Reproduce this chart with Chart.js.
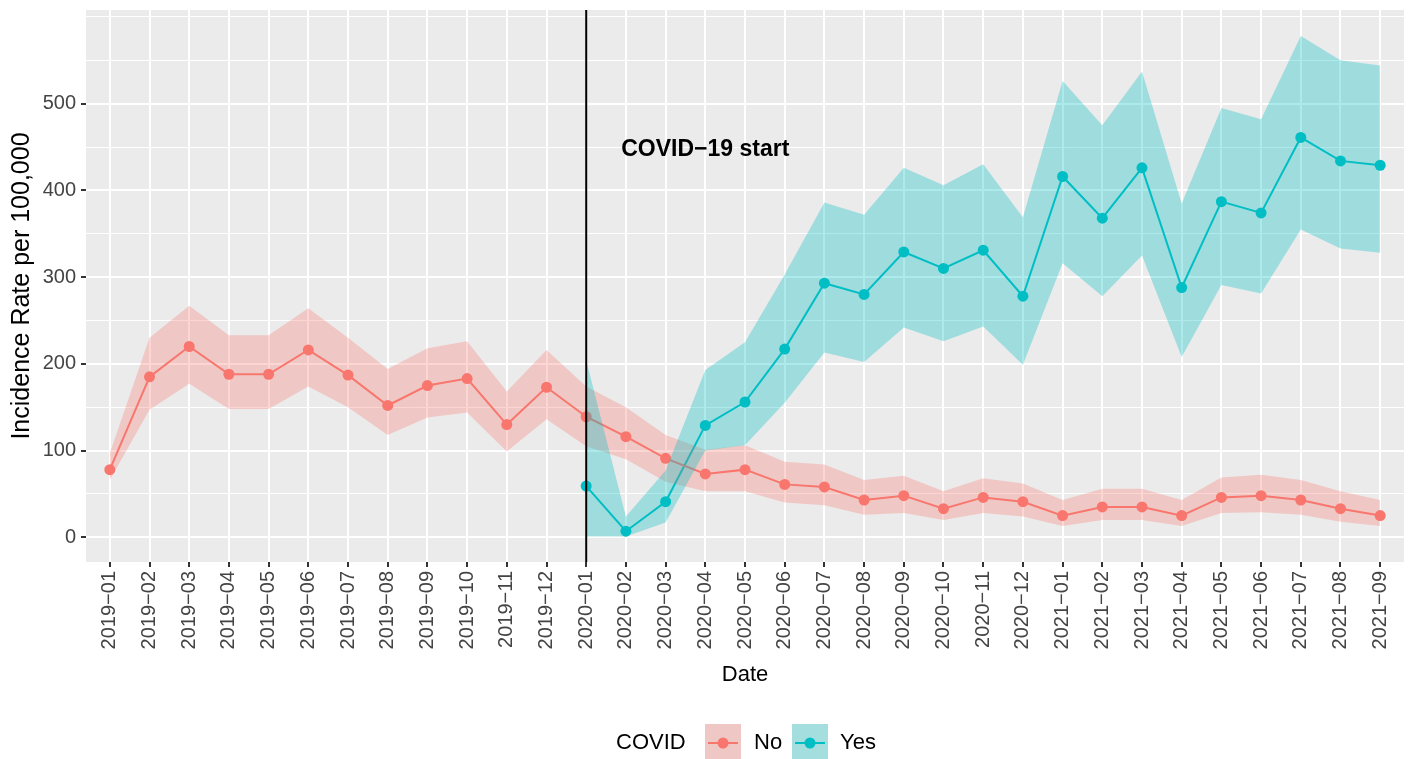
<!DOCTYPE html>
<html>
<head>
<meta charset="utf-8">
<script src="https://cdn.jsdelivr.net/npm/chart.js@4.4.1/dist/chart.umd.min.js"></script>
<style>
  html, body { margin: 0; padding: 0; background: #fff; }
  #wrap { width: 1411px; height: 759px; }
</style>
</head>
<body>
<div id="wrap"><canvas id="chart"></canvas></div>
<script>
const months = [
    '2019-01', '2019-02', '2019-03', '2019-04', '2019-05', '2019-06', '2019-07', '2019-08', '2019-09', '2019-10', '2019-11', '2019-12',
    '2020-01', '2020-02', '2020-03', '2020-04', '2020-05', '2020-06', '2020-07', '2020-08', '2020-09', '2020-10', '2020-11', '2020-12',
    '2021-01', '2021-02', '2021-03', '2021-04', '2021-05', '2021-06', '2021-07', '2021-08', '2021-09'
];

// COVID = No (all months)
const noRate  = [78, 185, 220, 188, 188, 216, 187, 152, 175, 183, 130, 173, 139, 116, 91, 73, 78, 61, 58, 43, 48, 33, 46, 41, 25, 35, 35, 25, 46, 48, 43, 33, 25];
const noLower = [66, 147, 177, 148, 148, 174, 150, 118, 138, 144, 99, 136, 105, 90, 64, 53, 53, 40, 37, 26, 28, 20, 28, 24, 13, 20, 20, 13, 28, 29, 26, 18, 13];
const noUpper = [97, 230, 267, 233, 233, 264, 230, 194, 218, 226, 168, 216, 174, 150, 118, 101, 106, 87, 84, 66, 71, 53, 68, 62, 43, 56, 56, 43, 69, 72, 66, 53, 43];

// COVID = Yes (from 2020-01)
const yesStart = 12;
const yesRate  = [59, 7, 41, 129, 156, 217, 293, 280, 329, 310, 331, 278, 416, 368, 426, 288, 387, 374, 461, 434, 429];
const yesLower = [1, 1, 17, 100, 106, 155, 213, 202, 242, 226, 243, 199, 316, 278, 325, 208, 291, 281, 355, 333, 328];
const yesUpper = [204, 24, 77, 193, 225, 303, 386, 372, 426, 406, 430, 369, 526, 475, 537, 385, 495, 482, 578, 550, 544];

const yMajor = [0, 100, 200, 300, 400, 500];
const yMinor = [50, 150, 250, 350, 450, 550, 600];

const startLabel = 'COVID\u221219 start';
const startLabelAt = { x: 15, y: 447 };

const RED = '#F8766D';
const TEAL = '#00BFC4';
const FONT = "'Liberation Sans', Arial, Helvetica, sans-serif";

function hexToRGBA(hex, alpha) {
    const r = parseInt(hex.slice(1, 3), 16);
    const g = parseInt(hex.slice(3, 5), 16);
    const b = parseInt(hex.slice(5, 7), 16);
    return `rgba(${r}, ${g}, ${b}, ${alpha})`;
}

const toPoints = (arr, offset) => arr.map((v, i) => ({ x: i + offset, y: v }));

function bandEdge(data, fill, color) {
    return {
        data: data,
        borderWidth: 0,
        borderColor: 'rgba(0,0,0,0)',
        pointRadius: 0,
        fill: fill,
        backgroundColor: color,
        order: 0
    };
}

function seriesLine(data, color) {
    return {
        data: data,
        borderColor: color,
        backgroundColor: color,
        borderWidth: 2,
        pointRadius: 5.5,
        pointBorderWidth: 0,
        fill: false,
        order: 5
    };
}

// panel background + legend + start marker
const ggPlugin = {
    id: 'ggPlugin',
    beforeDraw(chart) {
        const { ctx, chartArea: a } = chart;
        ctx.save();
        ctx.fillStyle = '#fff';
        ctx.fillRect(0, 0, chart.width, chart.height);
        ctx.fillStyle = '#EBEBEB';
        ctx.fillRect(a.left, a.top, a.right - a.left, a.bottom - a.top);
        ctx.restore();
    },
    afterDatasetsDraw(chart) {
        const { ctx, chartArea: a, scales } = chart;
        const x = scales.x.getPixelForValue(yesStart);
        ctx.save();
        ctx.strokeStyle = '#000';
        ctx.lineWidth = 2;
        ctx.beginPath();
        ctx.moveTo(x, a.top);
        ctx.lineTo(x, a.bottom);
        ctx.stroke();

        ctx.fillStyle = '#000';
        ctx.font = `bold 23px ${FONT}`;
        ctx.textAlign = 'center';
        ctx.textBaseline = 'middle';
        ctx.fillText(startLabel, scales.x.getPixelForValue(startLabelAt.x), scales.y.getPixelForValue(startLabelAt.y));
        ctx.restore();
    },
    afterDraw(chart) {
        const { ctx } = chart;
        const cy = 743;
        ctx.save();
        ctx.font = `22px ${FONT}`;
        ctx.textBaseline = 'middle';
        ctx.textAlign = 'left';
        ctx.fillStyle = '#000';
        ctx.fillText('COVID', 616, cy);

        const keys = [
            { x: 705, color: RED, text: 'No', tx: 754 },
            { x: 792, color: TEAL, text: 'Yes', tx: 840 }
        ];
        keys.forEach(k => {
            ctx.fillStyle = '#EBEBEB';
            ctx.fillRect(k.x, 724, 36, 36);
            ctx.fillStyle = hexToRGBA(k.color, 0.3);
            ctx.fillRect(k.x, 724, 36, 36);
            ctx.strokeStyle = k.color;
            ctx.lineWidth = 2;
            ctx.beginPath();
            ctx.moveTo(k.x + 3, cy);
            ctx.lineTo(k.x + 33, cy);
            ctx.stroke();
            ctx.fillStyle = k.color;
            ctx.beginPath();
            ctx.arc(k.x + 18, cy, 5.5, 0, Math.PI * 2);
            ctx.fill();
            ctx.fillStyle = '#000';
            ctx.fillText(k.text, k.tx, cy);
        });
        ctx.restore();
    }
};

Chart.defaults.font.family = FONT;

const ctx = document.getElementById('chart').getContext('2d');
new Chart(ctx, {
    type: 'line',
    data: {
        datasets: [
            bandEdge(toPoints(yesLower, yesStart), false, 'rgba(0,0,0,0)'),
            bandEdge(toPoints(yesUpper, yesStart), 0, hexToRGBA(TEAL, 0.32)),
            bandEdge(toPoints(noLower, 0), false, 'rgba(0,0,0,0)'),
            bandEdge(toPoints(noUpper, 0), 2, hexToRGBA(RED, 0.3)),
            seriesLine(toPoints(noRate, 0), RED),
            seriesLine(toPoints(yesRate, yesStart), TEAL)
        ]
    },
    options: {
        responsive: true,
        maintainAspectRatio: false,
        animation: false,
        layout: { padding: { top: 10, right: 7, left: 0, bottom: 71 } },
        elements: { line: { tension: 0 } },
        plugins: {
            legend: { display: false },
            tooltip: { enabled: false }
        },
        scales: {
            x: {
                type: 'linear',
                min: -0.6,
                max: months.length - 1 + 0.6,
                afterBuildTicks: (scale) => {
                    scale.ticks = months.map((m, i) => ({ value: i }));
                },
                afterFit: (scale) => { scale.height = 126; },
                border: { display: false },
                grid: {
                    color: '#fff',
                    lineWidth: 2,
                    tickColor: '#333',
                    tickLength: 5,
                    tickWidth: 2
                },
                ticks: {
                    autoSkip: false,
                    minRotation: 90,
                    maxRotation: 90,
                    padding: 4,
                    color: '#444',
                    font: { size: 20 },
                    callback: (v) => (months[v] || '').replace('-', '\u2212')
                },
                title: {
                    display: true,
                    text: 'Date',
                    color: '#000',
                    font: { size: 22 },
                    padding: { top: 0, bottom: 0 }
                }
            },
            y: {
                min: -28.5,
                max: 608,
                afterBuildTicks: (scale) => {
                    scale.ticks = yMajor.concat(yMinor).sort((a, b) => a - b).map(v => ({ value: v }));
                },
                afterFit: (scale) => {
                    scale.width = 86;
                    scale.paddingTop = 0;
                    scale.paddingBottom = 0;
                },
                border: { display: false },
                grid: {
                    color: '#fff',
                    lineWidth: (c) => yMajor.includes(c.tick.value) ? 2 : 1,
                    tickColor: (c) => yMajor.includes(c.tick.value) ? '#333' : 'rgba(0,0,0,0)',
                    tickLength: 5,
                    tickWidth: 2
                },
                ticks: {
                    padding: 5,
                    color: '#444',
                    font: { size: 20 },
                    callback: (v) => yMajor.includes(v) ? String(v) : ''
                },
                title: {
                    display: true,
                    text: 'Incidence Rate per 100,000',
                    color: '#000',
                    font: { size: 25 },
                    padding: { top: 7, bottom: 0 }
                }
            }
        }
    },
    plugins: [ggPlugin]
});
</script>
</body>
</html>
